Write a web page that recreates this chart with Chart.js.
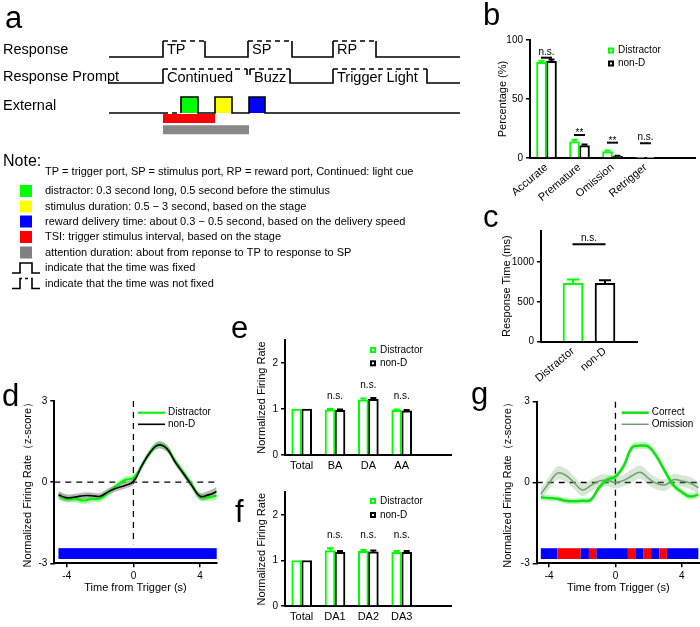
<!DOCTYPE html>
<html>
<head>
<meta charset="utf-8">
<script src="https://cdn.jsdelivr.net/npm/chart.js@4.4.0/dist/chart.umd.min.js"></script>
<style>
  html, body { margin: 0; padding: 0; background: #fff; }
  #wrap { position: relative; width: 700px; height: 627px; overflow: hidden; }
  canvas { position: absolute; left: 0; top: 0; }
</style>
</head>
<body>
<div id="wrap">
  <canvas id="cA" width="700" height="627"></canvas>
  <canvas id="cB" width="700" height="627"></canvas>
  <canvas id="cC" width="700" height="627"></canvas>
  <canvas id="cD" width="700" height="627"></canvas>
  <canvas id="cE" width="700" height="627"></canvas>
  <canvas id="cF" width="700" height="627"></canvas>
  <canvas id="cG" width="700" height="627"></canvas>
</div>
<script>
/* a: task schematic (time marks of each row) */
const rowLabels = ["Response", "Response Prompt", "External"];
const responseEdges = [163, 205, 248, 292, 333, 376];
const responseTags = ["TP", "SP", "RP"];
const promptEdges = [163, 247, 250, 290, 333, 427];
const promptTags = ["Continued", "Buzz", "Trigger Light"];
const cueEdges = [181, 198, 215, 232, 249, 265];
const cueColors = ["#00ff00", "#ffff00", "#0000ff"];
const tsiSpan = [163, 215];
const attentionSpan = [163, 249];
const timelineSpan = [109, 460];
const noteTexts = [
  "TP = trigger port, SP = stimulus port, RP = reward port, Continued: light cue",
  "distractor: 0.3 second long, 0.5 second before the stimulus",
  "stimulus duration: 0.5 \u2212 3 second, based on the stage",
  "reward delivery time: about 0.3 \u2212 0.5 second, based on the delivery speed",
  "TSI: trigger stimulus interval, based on the stage",
  "attention duration: about from reponse to TP to response to SP",
  "indicate that the time was fixed",
  "indicate that the time was not fixed",
];
const noteKeys = ["", "#00ff00", "#ffff00", "#0000ff", "#ff0000", "#808080", "fixed", "open"];

/* b: outcome percentage */
const outcomeLabels = ["Accurate", "Premature", "Omission", "Retrigger", ""];
const outcomeDistractor = [81, 14, 5.5, 0.5, null];
const outcomeNonD = [82, 10.5, 1.5, 0.3, null];
const outcomeErrDistractor = [1.5, 1.5, 0.8, 0, 0];
const outcomeErrNonD = [1.5, 1, 0.5, 0, 0];
const outcomeSig = ["n.s.", "**", "**", "n.s."];
const outcomeSigLevel = [85, 19.5, 13, 12.5];

/* c: response time */
const rtLabels = ["", "Distractor", "non-D", ""];
const rtValues = [null, 730, 730, null];
const rtErr = [0, 50, 40, 0];

/* d, g: firing rate traces */
const trialTime = [-4.5, -4, -3.5, -3, -2.5, -2, -1.5, -1, -0.5, 0, 0.5, 1, 1.5, 2, 2.5, 3, 3.5, 4, 4.5, 5];
const frDistractor = [-0.5, -0.62, -0.62, -0.68, -0.62, -0.6, -0.38, -0.12, 0.08, 0.15, 0.6, 1.1, 1.38, 1.25, 0.78, 0.35, -0.08, -0.55, -0.55, -0.5];
const semDistractor = [0.14, 0.13, 0.12, 0.12, 0.12, 0.12, 0.12, 0.12, 0.12, 0.12, 0.12, 0.12, 0.13, 0.13, 0.12, 0.12, 0.12, 0.13, 0.14, 0.16];
const frNonD = [-0.47, -0.58, -0.55, -0.5, -0.5, -0.52, -0.35, -0.22, -0.12, 0.02, 0.6, 1.1, 1.37, 1.25, 0.75, 0.32, -0.12, -0.52, -0.47, -0.35];
const semNonD = [0.14, 0.13, 0.12, 0.12, 0.12, 0.12, 0.12, 0.12, 0.12, 0.12, 0.12, 0.12, 0.13, 0.13, 0.12, 0.12, 0.12, 0.13, 0.15, 0.18];
const frCorrect = [-0.55, -0.58, -0.6, -0.68, -0.7, -0.68, -0.65, -0.2, 0.1, 0.22, 0.62, 1.3, 1.37, 1.33, 0.95, 0.4, -0.1, -0.35, -0.52, -0.45];
const semCorrect = [0.12, 0.12, 0.11, 0.11, 0.11, 0.11, 0.11, 0.12, 0.12, 0.12, 0.12, 0.13, 0.13, 0.13, 0.13, 0.12, 0.12, 0.12, 0.12, 0.13];
const frOmission = [-0.42, -0.02, 0.35, 0.27, 0.0, -0.28, -0.12, 0.05, 0.08, 0.0, 0.08, 0.25, 0.38, 0.15, -0.04, -0.09, 0.1, 0.06, -0.02, -0.2];
const semOmission = [0.2, 0.22, 0.25, 0.25, 0.24, 0.22, 0.22, 0.22, 0.22, 0.22, 0.22, 0.24, 0.25, 0.24, 0.22, 0.22, 0.22, 0.22, 0.22, 0.22];
const attentionBar = [-4.5, 5];
const sigEdges = [-4.5, -3.5, -2.1, -1.6, -1.15, 0.75, 1.2, 1.7, 2.15, 2.65, 3.1, 5];
const sigFlags = [0, 1, 0, 1, 0, 1, 0, 1, 0, 1, 0];

/* e, f: normalized firing rate per phase */
const phaseLabels = ["Total", "BA", "DA", "AA", ""];
const phaseDistractor = [1, 0.98, 1.2, 0.97, null];
const phaseNonD = [1, 0.97, 1.21, 0.96, null];
const phaseErrDistractor = [0, 0.02, 0.03, 0.02, 0];
const phaseErrNonD = [0, 0.02, 0.03, 0.02, 0];
const phaseSig = ["n.s.", "n.s.", "n.s."];
const phaseSigLevel = [1.27, 1.52, 1.27];

const daLabels = ["Total", "DA1", "DA2", "DA3", ""];
const daDistractor = [1, 1.22, 1.2, 1.18, null];
const daNonD = [1, 1.18, 1.19, 1.18, null];
const daErrDistractor = [0, 0.05, 0.03, 0.03, 0];
const daErrNonD = [0, 0.03, 0.03, 0.03, 0];
const daSig = ["n.s.", "n.s.", "n.s."];
const daSigLevel = [1.55, 1.55, 1.55];

const FONT = "'Liberation Sans', Arial, Helvetica, sans-serif";
const GREEN = "#00ff00";
Chart.defaults.font.family = FONT;
Chart.defaults.color = "#000";
Chart.defaults.animation = false;
Chart.defaults.responsive = false;
Chart.defaults.events = [];
Chart.defaults.layout.autoPadding = false;
Chart.defaults.plugins.legend.display = false;
Chart.defaults.plugins.tooltip.enabled = false;

// chart area in page pixels -> layout padding
function frame(l, t, r, b, wy, hx) {
  return { autoPadding: false, padding: { left: l - wy, top: t, right: 700 - r, bottom: Math.max(0, 627 - b - hx) } };
}

function yAxis(min, max, tickVals, wy, title) {
  return {
    min: min,
    max: max,
    afterBuildTicks: (s) => { s.ticks = tickVals.map((v) => ({ value: v })); },
    afterFit: (s) => { s.width = wy; s.paddingTop = 0; s.paddingBottom = 0; },
    border: { color: "#000", width: 2 },
    grid: { drawOnChartArea: false, color: "#000", lineWidth: 1.5, tickLength: 4 },
    ticks: { font: { size: 10 }, padding: 3, callback: (v) => String(v) },
    title: { display: true, text: title, font: { size: 11 }, padding: 0 },
  };
}

function catAxis(hx, offset, rotation, size, pad) {
  return {
    offset: offset,
    afterFit: (s) => { s.height = hx; s.paddingLeft = 0; s.paddingRight = 0; },
    border: { color: "#000", width: 2 },
    grid: { display: false, drawTicks: false },
    ticks: { font: { size: size }, padding: pad, autoSkip: false, minRotation: rotation, maxRotation: rotation },
  };
}

function timeAxis(xMax, hx) {
  return {
    type: "linear",
    min: -4.75,
    max: xMax,
    afterBuildTicks: (s) => { s.ticks = [-4, 0, 4].map((v) => ({ value: v })); },
    afterFit: (s) => { s.height = hx; s.paddingLeft = 0; s.paddingRight = 0; },
    border: { color: "#000", width: 2 },
    grid: { drawOnChartArea: false, color: "#000", lineWidth: 1.5, tickLength: 4 },
    ticks: { font: { size: 10 }, padding: 3, callback: (v) => String(v) },
    title: { display: true, text: "Time from Trigger (s)", font: { size: 11 }, padding: 0 },
  };
}

// upward error bars
const errorBars = {
  id: "errorBars",
  afterDatasetsDraw(chart) {
    const ctx = chart.ctx;
    const y = chart.scales.y;
    chart.data.datasets.forEach((ds, i) => {
      if (!ds.errors) return;
      chart.getDatasetMeta(i).data.forEach((bar, j) => {
        const v = ds.data[j];
        const e = ds.errors[j];
        if (v == null || !e) return;
        const top = y.getPixelForValue(v + e);
        const half = bar.width * 0.3;
        ctx.save();
        ctx.strokeStyle = Array.isArray(ds.borderColor) ? ds.borderColor[j] : ds.borderColor;
        ctx.lineWidth = 2;
        ctx.beginPath();
        ctx.moveTo(bar.x, bar.y);
        ctx.lineTo(bar.x, top);
        ctx.moveTo(bar.x - half, top);
        ctx.lineTo(bar.x + half, top);
        ctx.stroke();
        ctx.restore();
      });
    });
  },
};

// significance text (+ optional bar)
function sigMarks(cats, labels, levels, half) {
  return {
    id: "sigMarks",
    afterDraw(chart) {
      const ctx = chart.ctx;
      const x = chart.scales.x;
      const y = chart.scales.y;
      ctx.save();
      ctx.font = "10px " + FONT;
      ctx.fillStyle = "#000";
      ctx.strokeStyle = "#000";
      ctx.lineWidth = 2;
      ctx.textAlign = "center";
      cats.forEach((c, i) => {
        const px = x.getPixelForValue(c);
        const py = y.getPixelForValue(levels[i]);
        if (half) {
          ctx.beginPath();
          ctx.moveTo(px - half, py);
          ctx.lineTo(px + half, py);
          ctx.stroke();
          ctx.textBaseline = "alphabetic";
          ctx.fillText(labels[i], px, labels[i] === "**" ? py + 1 : py - 3);
        } else {
          ctx.textBaseline = "middle";
          ctx.fillText(labels[i], px, py);
        }
      });
      ctx.restore();
    },
  };
}

// small legend at page position
function keyPlugin(kind, x0, y0, gap) {
  return {
    id: "key",
    afterDraw(chart) {
      const ctx = chart.ctx;
      const items = chart.data.datasets.filter((d) => d.label);
      ctx.save();
      ctx.font = "10px " + FONT;
      ctx.textBaseline = "middle";
      items.forEach((d, i) => {
        const yy = y0 + i * gap;
        if (kind === "box") {
          ctx.fillStyle = d.borderColor;
          ctx.fillRect(x0, yy - 3, 6, 6);
          ctx.fillStyle = "#fff";
          ctx.fillRect(x0 + 2, yy - 1, 2, 2);
          ctx.fillStyle = "#000";
          ctx.fillText(d.label, x0 + 10, yy);
        } else {
          ctx.strokeStyle = d.borderColor;
          ctx.lineWidth = d.borderWidth;
          ctx.beginPath();
          ctx.moveTo(x0, yy);
          ctx.lineTo(x0 + 27, yy);
          ctx.stroke();
          ctx.fillStyle = "#000";
          ctx.fillText(d.label, x0 + 30, yy);
        }
      });
      ctx.restore();
    },
  };
}

// dashed zero lines + marker bar under the traces
function traceDecor(edges, flags) {
  return {
    id: "traceDecor",
    beforeDatasetsDraw(chart) {
      const ctx = chart.ctx;
      const x = chart.scales.x;
      const y = chart.scales.y;
      const a = chart.chartArea;
      ctx.save();
      ctx.strokeStyle = "#000";
      ctx.lineWidth = 1.3;
      ctx.setLineDash([6, 5]);
      ctx.beginPath();
      ctx.moveTo(a.left, y.getPixelForValue(0));
      ctx.lineTo(a.right, y.getPixelForValue(0));
      ctx.moveTo(x.getPixelForValue(0), y.getPixelForValue(3));
      ctx.lineTo(x.getPixelForValue(0), y.getPixelForValue(-2.3));
      ctx.stroke();
      ctx.setLineDash([]);
      const top = y.getPixelForValue(-2.44);
      const bot = y.getPixelForValue(-2.84);
      for (let i = 0; i < edges.length - 1; i++) {
        ctx.fillStyle = flags[i] ? "#ff0000" : "#0000ff";
        const l = x.getPixelForValue(edges[i]);
        const r = x.getPixelForValue(edges[i + 1]);
        ctx.fillRect(l, top, r - l, bot - top);
      }
      ctx.restore();
    },
  };
}

function band(mean, sem, sign) {
  return trialTime.map((t, i) => ({ x: t, y: mean[i] + sign * sem[i] }));
}
function trace(mean) {
  return trialTime.map((t, i) => ({ x: t, y: mean[i] }));
}

/* a: schematic */
const rowBase = [57, 83, 113];
const rowHigh = [41, 69, 97];

function stepPoints(edges, row) {
  const b = rowBase[row];
  const h = rowHigh[row];
  const pts = [{ x: timelineSpan[0], y: b }];
  for (let i = 0; i < edges.length; i += 2) {
    const s = edges[i];
    const e = edges[i + 1];
    const prevEnd = edges[i - 1];
    const next = edges[i + 2];
    pts.push({ x: s, y: prevEnd !== undefined && s - prevEnd < 5 ? h + 6 : b });
    pts.push({ x: s, y: h }, { x: e, y: h });
    if (next !== undefined && next - e < 5) {
      pts.push({ x: e, y: h + 6 }, { x: e + 1, y: null });
    } else {
      pts.push({ x: e, y: b });
    }
  }
  pts.push({ x: timelineSpan[1], y: b });
  return pts;
}
function dashTop(h) {
  return { borderDash: (c) => (c.p0.parsed.y === h && c.p1.parsed.y === h ? [5, 4] : undefined) };
}

const extB = rowBase[2];
const extH = rowHigh[2];
const extPts = [{ x: cueEdges[0], y: extB }];
const boxSets = [];
for (let i = 0; i < cueEdges.length; i += 2) {
  const s = cueEdges[i];
  const e = cueEdges[i + 1];
  extPts.push({ x: s, y: extB }, { x: s, y: extH }, { x: e, y: extH }, { x: e, y: extB });
  boxSets.push({
    data: [{ x: s, y: extB }, { x: s, y: extH }, { x: e, y: extH }, { x: e, y: extB }],
    borderWidth: 0,
    pointRadius: 0,
    backgroundColor: cueColors[i / 2],
    fill: { value: extB },
    order: 5,
  });
}
extPts.push({ x: timelineSpan[1], y: extB });

const schemaLine = { borderColor: "#000", borderWidth: 1.6, pointRadius: 0, fill: false, order: 1 };

new Chart(document.getElementById("cA"), {
  type: "line",
  data: {
    datasets: [
      Object.assign({ data: stepPoints(responseEdges, 0), segment: dashTop(rowHigh[0]) }, schemaLine),
      Object.assign({ data: stepPoints(promptEdges, 1), segment: dashTop(rowHigh[1]) }, schemaLine),
      Object.assign({ data: [{ x: timelineSpan[0], y: extB }, { x: tsiSpan[0], y: extB }] }, schemaLine),
      Object.assign({ data: [{ x: tsiSpan[0], y: extB }, { x: cueEdges[0], y: extB }], borderDash: [5, 4] }, schemaLine),
      Object.assign({ data: extPts }, schemaLine),
      ...boxSets,
      { data: [{ x: tsiSpan[0], y: 118.5 }, { x: tsiSpan[1], y: 118.5 }], borderColor: "#ff0000", borderWidth: 9, borderCapStyle: "butt", pointRadius: 0 },
      { data: [{ x: attentionSpan[0], y: 129.7 }, { x: attentionSpan[1], y: 129.7 }], borderColor: "#888888", borderWidth: 9, borderCapStyle: "butt", pointRadius: 0 },
    ],
  },
  options: {
    spanGaps: false,
    layout: { autoPadding: false, padding: 0 },
    scales: {
      x: { type: "linear", min: 0, max: 700, display: false },
      y: { type: "linear", min: 0, max: 627, reverse: true, display: false },
    },
  },
  plugins: [{
    id: "schemaText",
    afterDraw(chart) {
      const ctx = chart.ctx;
      const X = (v) => chart.scales.x.getPixelForValue(v);
      const Y = (v) => chart.scales.y.getPixelForValue(v);
      ctx.save();
      ctx.fillStyle = "#000";
      ctx.textBaseline = "middle";
      ctx.textAlign = "left";
      // row names + tags
      ctx.font = "14.5px " + FONT;
      rowLabels.forEach((t, i) => ctx.fillText(t, X(3), Y((rowBase[i] + rowHigh[i]) / 2 + 1)));
      responseTags.forEach((t, i) => ctx.fillText(t, X(responseEdges[i * 2]) + 4, Y(50)));
      promptTags.forEach((t, i) => ctx.fillText(t, X(promptEdges[i * 2]) + 4, Y(78)));
      // notes
      ctx.font = "16px " + FONT;
      ctx.fillText("Note:", X(3), Y(162));
      ctx.font = "11px " + FONT;
      const noteY = [171.5, 191, 206.5, 221.5, 237, 252.5, 268, 283.5];
      noteTexts.forEach((t, i) => {
        const yy = Y(noteY[i]);
        ctx.fillStyle = "#000";
        ctx.fillText(t, X(45), yy);
        const k = noteKeys[i];
        if (k === "fixed" || k === "open") {
          ctx.strokeStyle = "#000";
          ctx.lineWidth = 1.6;
          ctx.beginPath();
          ctx.moveTo(X(12), yy + 5);
          ctx.lineTo(X(20), yy + 5);
          ctx.lineTo(X(20), yy - 5);
          if (k === "fixed") {
            ctx.lineTo(X(32), yy - 5);
          } else {
            ctx.lineTo(X(22), yy - 5);
            ctx.moveTo(X(25), yy - 5);
            ctx.lineTo(X(28), yy - 5);
            ctx.moveTo(X(31), yy - 5);
            ctx.lineTo(X(32), yy - 5);
          }
          ctx.lineTo(X(32), yy + 5);
          ctx.lineTo(X(40), yy + 5);
          ctx.stroke();
        } else if (k) {
          ctx.fillStyle = k;
          ctx.fillRect(X(20), yy - 6, 12, 12);
        }
      });
      // panel letters
      ctx.fillStyle = "#000";
      ctx.textBaseline = "alphabetic";
      ctx.font = "31px " + FONT;
      const letters = ["a", "b", "c", "d", "e", "f", "g"];
      const lx = [5, 483, 483, 2, 231, 235, 471];
      const ly = [28, 25, 227, 406, 338, 522, 404];
      letters.forEach((t, i) => ctx.fillText(t, X(lx[i]), Y(ly[i])));
      ctx.restore();
    },
  }],
});

/* b: outcome bars */
new Chart(document.getElementById("cB"), {
  type: "bar",
  data: {
    labels: outcomeLabels,
    datasets: [
      { label: "Distractor", data: outcomeDistractor, errors: outcomeErrDistractor, borderColor: GREEN, backgroundColor: "#fff", borderWidth: 2, barThickness: 10 },
      { label: "non-D", data: outcomeNonD, errors: outcomeErrNonD, borderColor: "#000", backgroundColor: "#fff", borderWidth: 2, barThickness: 10 },
    ],
  },
  options: {
    layout: frame(530, 40, 695, 158, 33.6, 60),
    scales: {
      x: catAxis(60, true, 40, 11, 3),
      y: yAxis(0, 100, [0, 50, 100], 33.6, "Percentage (%)"),
    },
  },
  plugins: [errorBars, sigMarks([0, 1, 2, 3], outcomeSig, outcomeSigLevel, 5.5), keyPlugin("box", 608, 50.5, 13)],
});

/* c: response time */
new Chart(document.getElementById("cC"), {
  type: "bar",
  data: {
    labels: rtLabels,
    datasets: [
      { data: rtValues, errors: rtErr, borderColor: ["#000", GREEN, "#000", "#000"], backgroundColor: "#fff", borderWidth: 2, barThickness: 20 },
    ],
  },
  options: {
    layout: frame(541, 230.7, 637, 341.7, 40.9, 60),
    scales: {
      x: catAxis(60, false, 40, 11, 3),
      y: yAxis(0, 1390, [0, 500, 1000], 40.9, "Response Time (ms)"),
    },
  },
  plugins: [errorBars, sigMarks([1.5], ["n.s."], [1220], 16.5)],
});

/* d: distractor vs non-D traces */
new Chart(document.getElementById("cD"), {
  type: "line",
  data: {
    datasets: [
      { data: band(frDistractor, semDistractor, 1), borderWidth: 0, pointRadius: 0, fill: false, order: 4 },
      { data: band(frDistractor, semDistractor, -1), borderWidth: 0, pointRadius: 0, fill: "-1", backgroundColor: "rgba(90,255,90,0.55)", order: 4 },
      { data: band(frNonD, semNonD, 1), borderWidth: 0, pointRadius: 0, fill: false, order: 3 },
      { data: band(frNonD, semNonD, -1), borderWidth: 0, pointRadius: 0, fill: "-1", backgroundColor: "rgba(140,140,140,0.6)", order: 3 },
      { label: "Distractor", data: trace(frDistractor), borderColor: "#00ee00", borderWidth: 2, pointRadius: 0, order: 1 },
      { label: "non-D", data: trace(frNonD), borderColor: "#000", borderWidth: 1.6, pointRadius: 0, order: 0 },
    ],
  },
  options: {
    elements: { line: { tension: 0.4 } },
    layout: frame(54.3, 401, 216.7, 563.3, 32.9, 31.6),
    scales: {
      x: timeAxis(5, 31.6),
      y: yAxis(-3, 3, [-3, 0, 3], 32.9, "Normalized Firing Rate\uFF08z-score\uFF09"),
    },
  },
  plugins: [traceDecor(attentionBar, [0]), keyPlugin("line", 138, 412.7, 11.6)],
});

/* e: phase bars */
new Chart(document.getElementById("cE"), {
  type: "bar",
  data: {
    labels: phaseLabels,
    datasets: [
      { label: "Distractor", data: phaseDistractor, errors: phaseErrDistractor, borderColor: GREEN, backgroundColor: "#fff", borderWidth: 2, barThickness: 10 },
      { label: "non-D", data: phaseNonD, errors: phaseErrNonD, borderColor: "#000", backgroundColor: "#fff", borderWidth: 2, barThickness: 10 },
    ],
  },
  options: {
    layout: frame(285, 340, 451.7, 455, 29.6, 21),
    scales: {
      x: catAxis(21, true, 0, 11, 4),
      y: yAxis(0, 2.5, [0, 1, 2], 29.6, "Normalized Firing Rate"),
    },
  },
  plugins: [errorBars, sigMarks([1, 2, 3], phaseSig, phaseSigLevel, 0), keyPlugin("box", 370, 350, 13.3)],
});

/* f: DA sub-phase bars */
new Chart(document.getElementById("cF"), {
  type: "bar",
  data: {
    labels: daLabels,
    datasets: [
      { label: "Distractor", data: daDistractor, errors: daErrDistractor, borderColor: GREEN, backgroundColor: "#fff", borderWidth: 2, barThickness: 10 },
      { label: "non-D", data: daNonD, errors: daErrNonD, borderColor: "#000", backgroundColor: "#fff", borderWidth: 2, barThickness: 10 },
    ],
  },
  options: {
    layout: frame(285, 492.3, 451.7, 606, 29.6, 21),
    scales: {
      x: catAxis(21, true, 0, 11, 4),
      y: yAxis(0, 2.5, [0, 1, 2], 29.6, "Normalized Firing Rate"),
    },
  },
  plugins: [errorBars, sigMarks([1, 2, 3], daSig, daSigLevel, 0), keyPlugin("box", 370, 501, 14)],
});

/* g: correct vs omission traces */
new Chart(document.getElementById("cG"), {
  type: "line",
  data: {
    datasets: [
      { data: band(frOmission, semOmission, 1), borderWidth: 0, pointRadius: 0, fill: false, order: 4 },
      { data: band(frOmission, semOmission, -1), borderWidth: 0, pointRadius: 0, fill: "-1", backgroundColor: "rgba(120,175,120,0.3)", order: 4 },
      { data: band(frCorrect, semCorrect, 1), borderWidth: 0, pointRadius: 0, fill: false, order: 3 },
      { data: band(frCorrect, semCorrect, -1), borderWidth: 0, pointRadius: 0, fill: "-1", backgroundColor: "rgba(60,230,60,0.35)", order: 3 },
      { label: "Correct", data: trace(frCorrect), borderColor: "#11e011", borderWidth: 2.5, pointRadius: 0, order: 0 },
      { label: "Omission", data: trace(frOmission), borderColor: "#6f9f6f", borderWidth: 1.5, pointRadius: 0, order: 1 },
    ],
  },
  options: {
    elements: { line: { tension: 0.4 } },
    layout: frame(536.7, 401.7, 700, 563.3, 35.3, 31.6),
    scales: {
      x: timeAxis(5.1, 31.6),
      y: yAxis(-3, 3, [-3, 0, 3], 35.3, "Normalized Firing Rate\uFF08z-score\uFF09"),
    },
  },
  plugins: [traceDecor(sigEdges, sigFlags), keyPlugin("line", 621.7, 412.7, 11.6)],
});
</script>
</body>
</html>
